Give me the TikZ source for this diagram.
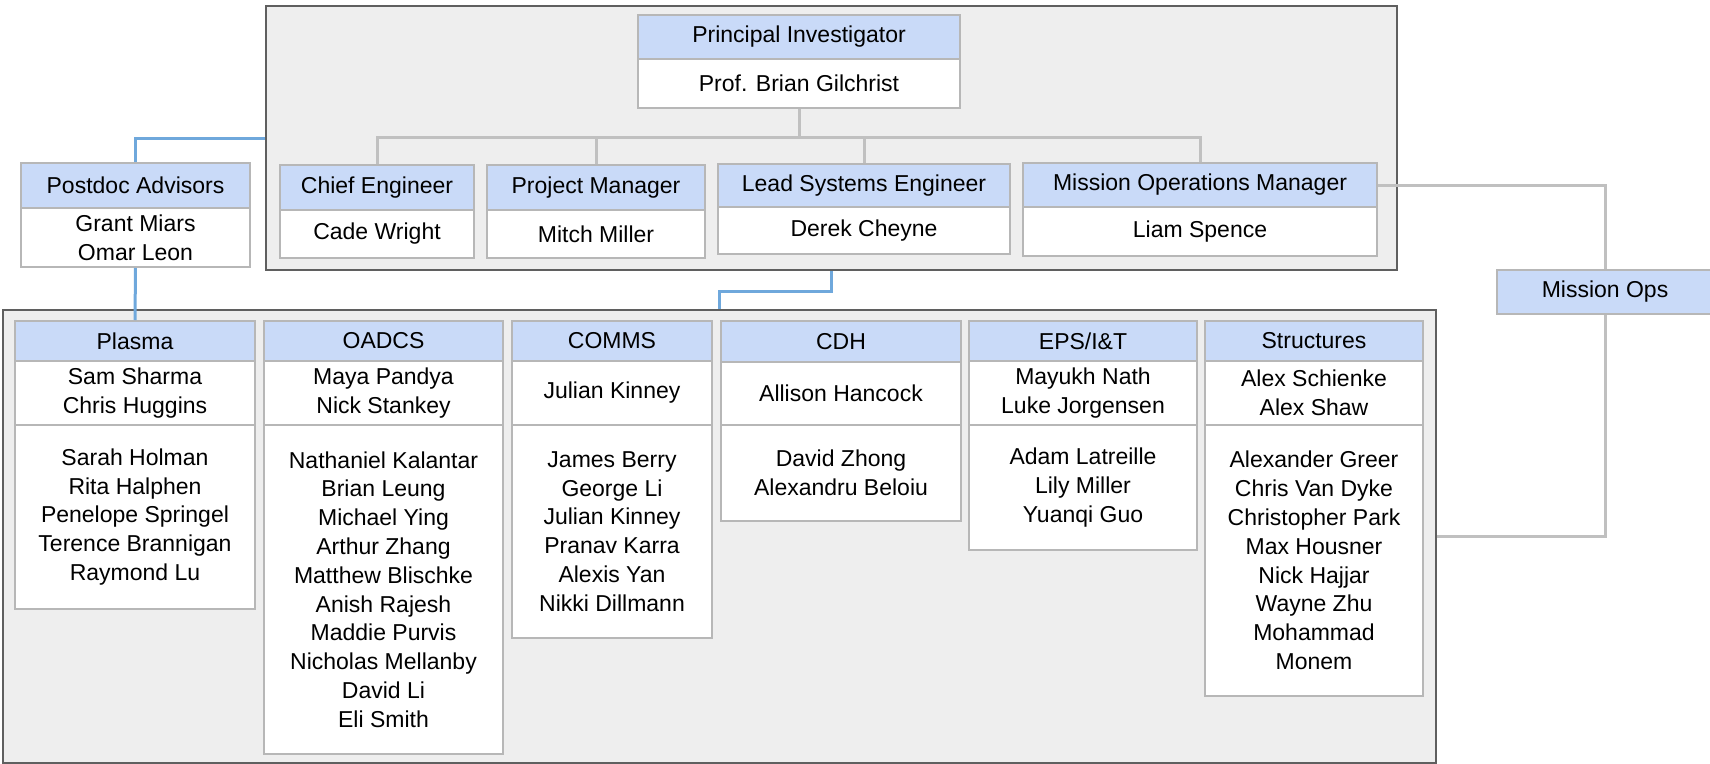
\documentclass[tikz,border=0pt]{standalone}
\usepackage{fontspec}
\setmainfont{Liberation Sans}
\usepackage{xcolor}
\usepackage{tikz}
\usetikzlibrary{positioning}
\definecolor{hdrblue}{HTML}{C9DAF8}
\definecolor{boxgray}{HTML}{B7B7B7}
\definecolor{grpgray}{HTML}{5F5F5F}
\definecolor{grpfill}{HTML}{EEEEEE}
\definecolor{linegray}{HTML}{C0C0C0}
\definecolor{lineblue}{HTML}{6FA8DC}

\begin{document}
\begin{tikzpicture}[x=1pt, y=-1pt,
    font=\fontsize{23}{28.8}\selectfont,
    sz/.style 2 args={minimum width=#1pt, minimum height=#2pt},
    hdr/.style={draw=boxgray, fill=hdrblue, line width=2pt, anchor=north west, inner sep=0pt, align=center},
    cell/.style={draw=boxgray, fill=white, line width=2pt, anchor=north west, inner sep=0pt, align=center},
    grp/.style={draw=grpgray, fill=grpfill, line width=2pt, anchor=north west, inner sep=0pt},
    gline/.style={draw=linegray, line width=3pt},
    bline/.style={draw=lineblue, line width=3pt}]

\useasboundingbox (0,0) rectangle (1710,763);

% the two grey group panels
\node[grp, sz={1131}{264}] (topgrp) at (265,5) {};
\node[grp, sz={1433}{453}] (botgrp) at (2,309) {};

% leadership row
\node[hdr,  sz={322}{44}] (pi-h) at (637,14) {Principal Investigator};
\node[cell, sz={322}{49}] (pi-b) at (637,58) {Prof. Brian Gilchrist};

\node[hdr,  sz={194}{45}] (chief-h) at (279,164) {Chief Engineer};
\node[cell, sz={194}{48}] (chief-b) at (279,209) {Cade Wright};

\node[hdr,  sz={218}{45}] (pm-h) at (486,164) {Project Manager};
\node[cell, sz={218}{48}] (pm-b) at (486,209) {Mitch Miller};

\node[hdr,  sz={292}{43}] (lse-h) at (717,163) {Lead Systems Engineer};
\node[cell, sz={292}{47}] (lse-b) at (717,206) {Derek Cheyne};

\node[hdr,  sz={354}{44}] (mom-h) at (1022,162) {Mission Operations Manager};
\node[cell, sz={354}{49}] (mom-b) at (1022,206) {Liam Spence};

% outside the panels
\node[hdr,  sz={229}{45}] (pdoc-h) at (20,162) {Postdoc Advisors};
\node[cell, sz={229}{59}] (pdoc-b) at (20,207) {Grant Miars\\Omar Leon};

\node[hdr, sz={216}{44}] (mops) at (1496,269) {Mission Ops};

% subsystem columns: header, leads, members
\node[hdr,  sz={240}{40}]  (plasma-h) at (14,320) {Plasma};
\node[cell, sz={240}{64}]  (plasma-l) at (14,360) {Sam Sharma\\Chris Huggins};
\node[cell, sz={240}{184}] (plasma-b) at (14,424) {Sarah Holman\\Rita Halphen\\Penelope Springel\\Terence Brannigan\\Raymond Lu};

\node[hdr,  sz={239}{40}]  (oadcs-h) at (263,320) {OADCS};
\node[cell, sz={239}{64}]  (oadcs-l) at (263,360) {Maya Pandya\\Nick Stankey};
\node[cell, sz={239}{329}] (oadcs-b) at (263,424) {Nathaniel Kalantar\\Brian Leung\\Michael Ying\\Arthur Zhang\\Matthew Blischke\\Anish Rajesh\\Maddie Purvis\\Nicholas Mellanby\\David Li\\Eli Smith};

\node[hdr,  sz={200}{40}]  (comms-h) at (511,320) {COMMS};
\node[cell, sz={200}{64}]  (comms-l) at (511,360) {Julian Kinney};
\node[cell, sz={200}{213}] (comms-b) at (511,424) {James Berry\\George Li\\Julian Kinney\\Pranav Karra\\Alexis Yan\\Nikki Dillmann};

\node[hdr,  sz={240}{41}] (cdh-h) at (720,320) {CDH};
\node[cell, sz={240}{63}] (cdh-l) at (720,361) {Allison Hancock};
\node[cell, sz={240}{96}] (cdh-b) at (720,424) {David Zhong\\Alexandru Beloiu};

\node[hdr,  sz={228}{40}]  (eps-h) at (968,320) {EPS/I\&T};
\node[cell, sz={228}{64}]  (eps-l) at (968,360) {Mayukh Nath\\Luke Jorgensen};
\node[cell, sz={228}{125}] (eps-b) at (968,424) {Adam Latreille\\Lily Miller\\Yuanqi Guo};

\node[hdr,  sz={218}{40}]  (struct-h) at (1204,320) {Structures};
\node[cell, sz={218}{64}]  (struct-l) at (1204,360) {Alex Schienke\\Alex Shaw};
\node[cell, sz={218}{271}] (struct-b) at (1204,424) {Alexander Greer\\Chris Van Dyke\\Christopher Park\\Max Housner\\Nick Hajjar\\Wayne Zhu\\Mohammad\\Monem};

% grey reporting lines under the PI
\draw[gline] (pi-b.south) -- ++(0,28) coordinate (bus);
\draw[gline] (chief-h.north) |- (bus) -| (mom-h.north);
\foreach \n in {pm-h, lse-h}
    \draw[gline] (\n.north) -- (\n.north |- bus);

% mission ops loop on the right
\draw[gline] (mom-h.east) -| (mops.north);
\draw[gline] (mops.south) |- (botgrp.east);

% blue links
\draw[bline] (topgrp.west) -| (pdoc-h.north);
\draw[bline] (pdoc-b.south) -- (plasma-h.north);
\draw[bline] (topgrp.south) -- ++(0,20) -| (botgrp.north);

\end{tikzpicture}
\end{document}
